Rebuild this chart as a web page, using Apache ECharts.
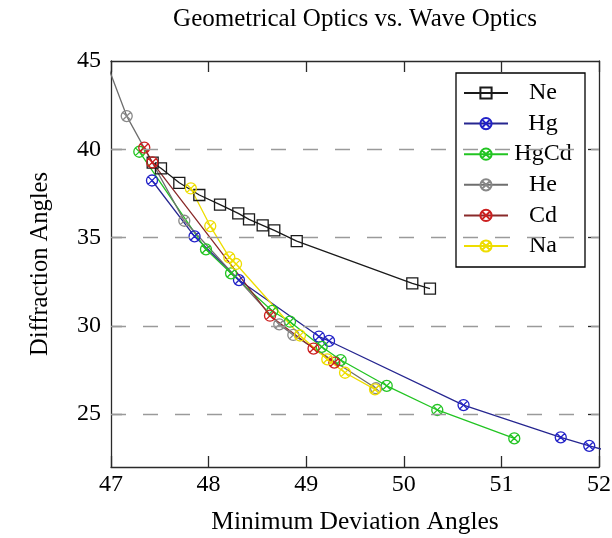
<!DOCTYPE html>
<html>
<head>
<meta charset="utf-8">
<script src="https://cdn.jsdelivr.net/npm/echarts@6/dist/echarts.min.js"></script>
<style>
html,body{margin:0;padding:0;background:#fff;}
#chart{width:612px;height:538px;}
</style>
</head>
<body>
<div id="chart"></div>
<script>
// ---- data ----
const neX = [47.427, 47.512, 47.70, 47.905, 48.117, 48.304, 48.414, 48.554, 48.673, 48.903, 50.087, 50.268];
const neY = [39.24, 38.92, 38.10, 37.41, 36.86, 36.37, 36.03, 35.69, 35.40, 34.80, 32.40, 32.11];

const hgX = [47.42, 47.856, 48.311, 49.131, 49.234, 50.612, 51.608, 51.90, 52.2];
const hgY = [38.23, 35.07, 32.59, 29.39, 29.14, 25.51, 23.68, 23.20, 22.75];

const hgcdX = [47.29, 47.973, 48.23, 48.653, 48.834, 49.159, 49.353, 49.825, 50.343, 51.132];
const hgcdY = [39.86, 34.33, 32.97, 30.84, 30.23, 28.81, 28.06, 26.60, 25.23, 23.62];

const heX = [46.9, 47.161, 47.751, 48.724, 48.868, 49.715];
const heY = [45.7, 41.88, 35.95, 30.08, 29.48, 26.46];

const cdX = [47.341, 47.423, 48.629, 49.075, 49.288];
const cdY = [40.09, 39.26, 30.57, 28.71, 27.91];

const naX = [47.818, 48.017, 48.212, 48.281, 48.936, 49.216, 49.398, 49.705];
const naY = [37.78, 35.65, 33.88, 33.50, 29.45, 28.10, 27.34, 26.40];

const seriesNames = ['Ne', 'Hg', 'HgCd', 'He', 'Cd', 'Na'];
const yTickValues = [25, 30, 35, 40];
const yLabelValues = [25, 30, 35, 40, 45];
const gridValues = [25, 30, 35, 40];
const xRange = [47, 52];
const yRange = [22, 45];

const titleText = 'Geometrical Optics vs. Wave Optics';
const xName = 'Minimum Deviation Angles';
const yName = 'Diffraction Angles';

// ---- styling ----
const FONT = '"Liberation Serif", "Times New Roman", serif';
const OTIMES = 'path://M0,-10A10,10,0,1,1,0,10A10,10,0,1,1,0,-10Z M-7.07,-7.07L7.07,7.07 M7.07,-7.07L-7.07,7.07';

function pairs(xs, ys) { return xs.map((x, i) => [x, ys[i]]); }

function mkSeries(name, xs, ys, lineColor, markColor, symbol, size) {
  return {
    name: name,
    type: 'line',
    data: pairs(xs, ys),
    clip: true,
    symbol: symbol,
    symbolSize: size,
    showAllSymbol: true,
    lineStyle: { color: lineColor, width: 1.3 },
    itemStyle: { color: 'rgba(255,255,255,0)', borderColor: markColor, borderWidth: 1.3 },
    emphasis: { disabled: true },
    z: 3
  };
}

const chart = echarts.init(document.getElementById('chart'), null, { renderer: 'canvas' });

const axisLineStyle = { color: '#2a2a2a', width: 1.3 };

const option = {
  animation: false,
  backgroundColor: '#fff',
  title: {
    text: titleText,
    left: 355,
    top: 7,
    padding: 0,
    textAlign: 'center',
    textStyle: { fontFamily: FONT, fontSize: 25, fontWeight: 'normal', color: '#000' }
  },
  grid: { left: 111, right: 13, top: 61, bottom: 71, containLabel: false, outerBoundsMode: 'none' },
  legend: {
    data: seriesNames,
    orient: 'vertical',
    left: 456,
    top: 73,
    padding: [8, 12, 9, 7],
    itemWidth: 44,
    itemHeight: 14,
    itemGap: 6.6,
    backgroundColor: '#fff',
    borderColor: '#000',
    borderWidth: 1.3,
    formatter: '{n|{name}}',
    textStyle: {
      fontFamily: FONT, fontSize: 24, color: '#000',
      rich: { n: { fontFamily: FONT, fontSize: 24, color: '#000', width: 60, align: 'center', lineHeight: 24 } }
    }
  },
  xAxis: [
    {
      type: 'value', min: xRange[0], max: xRange[1], interval: 1, position: 'bottom',
      name: xName, nameLocation: 'middle', nameGap: 42,
      nameTextStyle: { fontFamily: FONT, fontSize: 25.5, color: '#000' },
      axisLine: { show: true, onZero: false, lineStyle: axisLineStyle },
      axisTick: { show: true, inside: true, length: 11, lineStyle: axisLineStyle },
      axisLabel: { fontFamily: FONT, fontSize: 24, color: '#000', margin: 6 },
      splitLine: { show: false }
    },
    {
      type: 'value', min: xRange[0], max: xRange[1], interval: 1, position: 'top',
      axisLine: { show: true, onZero: false, lineStyle: axisLineStyle },
      axisTick: { show: true, inside: true, length: 11, lineStyle: axisLineStyle },
      axisLabel: { show: false },
      splitLine: { show: false }
    }
  ],
  yAxis: [
    {
      type: 'value', min: yRange[0], max: yRange[1], position: 'left',
      name: yName, nameLocation: 'middle', nameGap: 58,
      nameTextStyle: { fontFamily: FONT, fontSize: 24.5, color: '#000' },
      axisLine: { show: true, onZero: false, lineStyle: axisLineStyle },
      axisTick: { show: true, inside: true, length: 11, lineStyle: axisLineStyle, customValues: yTickValues },
      axisLabel: { fontFamily: FONT, fontSize: 24, color: '#000', margin: 10, customValues: yLabelValues },
      splitLine: { show: false }
    },
    {
      type: 'value', min: yRange[0], max: yRange[1], position: 'right',
      axisLine: { show: true, onZero: false, lineStyle: axisLineStyle },
      axisTick: { show: true, inside: true, length: 11, lineStyle: axisLineStyle, customValues: yTickValues },
      axisLabel: { show: false },
      splitLine: { show: false }
    }
  ],
  series: [
    {
      name: 'grid', type: 'line', data: [], silent: true, z: 1,
      markLine: {
        silent: true, symbol: ['none', 'none'], animation: false,
        label: { show: false },
        lineStyle: { color: '#9a9a9a', width: 1.3, type: [15, 17] },
        data: gridValues.map(v => ({ yAxis: v }))
      }
    },
    mkSeries('Ne', neX, neY, '#1a1a1a', '#1a1a1a', 'rect', 11),
    mkSeries('Hg', hgX, hgY, '#262690', '#2222c8', OTIMES, 11),
    mkSeries('HgCd', hgcdX, hgcdY, '#22c422', '#22c422', OTIMES, 11),
    mkSeries('He', heX, heY, '#6e6e6e', '#888888', OTIMES, 11),
    mkSeries('Cd', cdX, cdY, '#8a2a2a', '#cc2020', OTIMES, 11),
    mkSeries('Na', naX, naY, '#eedd00', '#eedd00', OTIMES, 11)
  ]
};

chart.setOption(option);
</script>
</body>
</html>
